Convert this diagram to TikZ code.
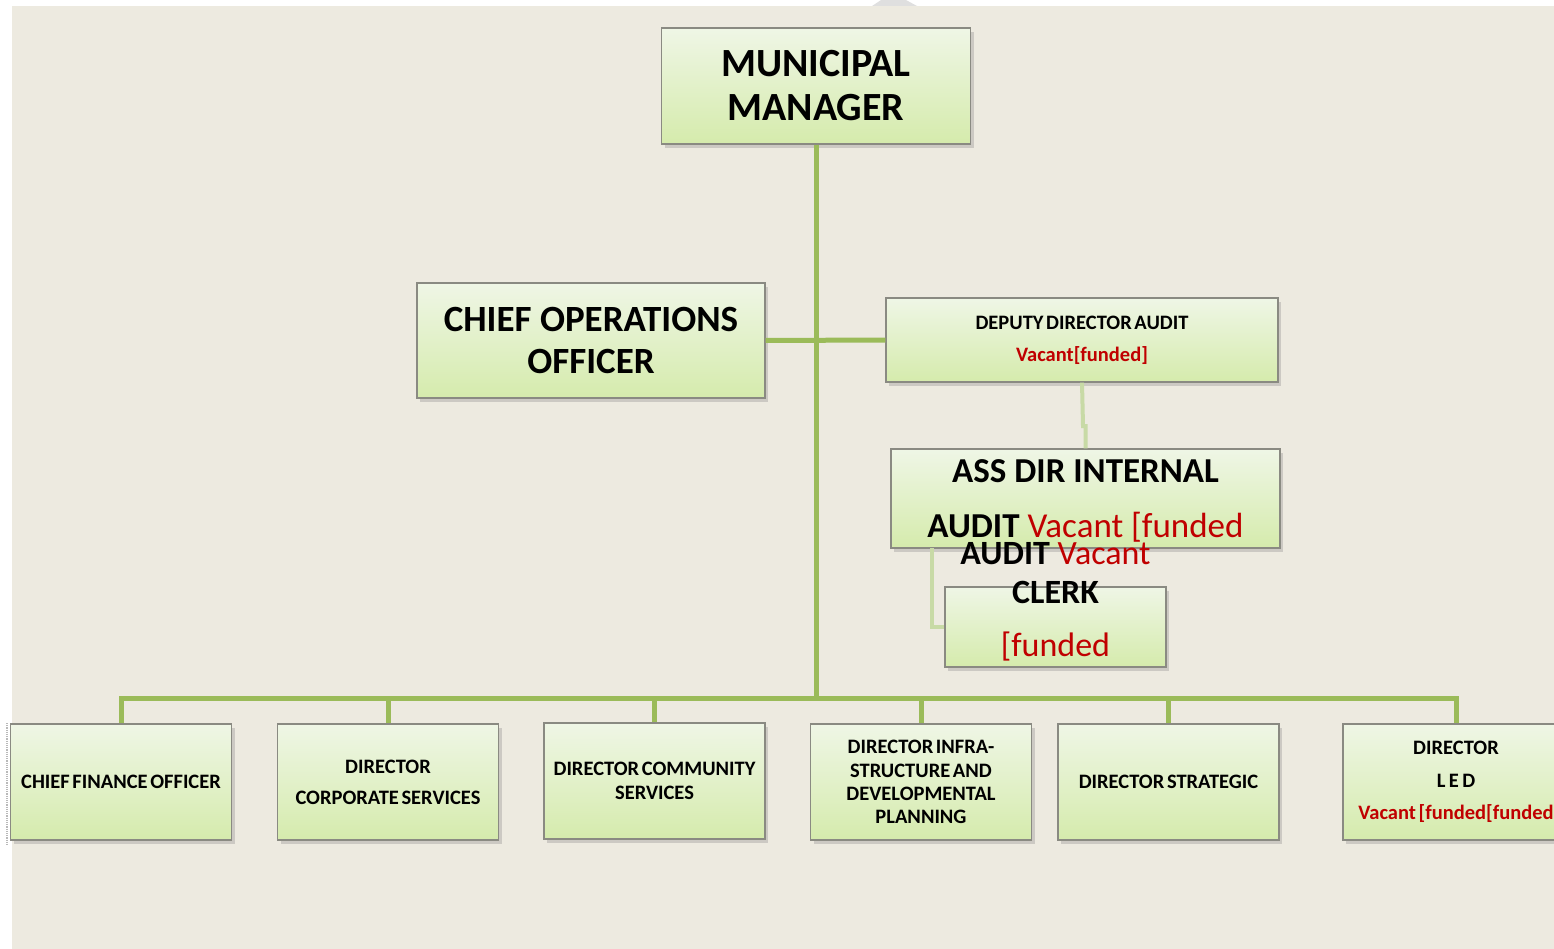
\documentclass[tikz,border=0pt]{standalone}
\usepackage{fontspec}
\setmainfont{Carlito}
\usetikzlibrary{shadows}

\definecolor{bg}{HTML}{EDEAE0}
\definecolor{link}{HTML}{9BBB59}
\definecolor{linklt}{HTML}{C8DAA6}
\definecolor{boxtop}{HTML}{EFF6E6}
\definecolor{boxbot}{HTML}{D5EBAC}
\definecolor{boxline}{HTML}{8A8A82}
\definecolor{vac}{HTML}{C00000}

% small captions: bold, with narrow word spaces
\newcommand{\smallcap}[1]{\bfseries\fontsize{20.5}{#1}\selectfont\spaceskip=0.13em plus 0.05em\relax}

\tikzset{
  post/.style={draw=boxline, line width=1.4pt, top color=boxtop, bottom color=boxbot,
    drop shadow={shadow xshift=3pt, shadow yshift=-4pt, opacity=0.3},
    inner sep=0pt, align=center, text=black},
  unitpost/.style={post, minimum width=221pt, minimum height=116pt},
  conn/.style={draw=link, line width=5pt},
  subconn/.style={draw=linklt, line width=4pt},
}

\begin{document}
\begin{tikzpicture}[x=1pt, y=-1pt]
  \useasboundingbox (0,0) rectangle (1554,949);
  % page background
  \fill[bg] (12,6) rectangle (1554,949);
  \fill[gray!25] (872,6) -- (881,0) -- (906,0) -- (917,6) -- cycle;
  \draw[gray!55, line width=1.2pt, densely dotted] (7,723) -- (7,845);

  % hub of the main trunk
  \coordinate (bushub) at (816,698);

  % top level
  \node[post, font=\bfseries\fontsize{40}{44}\selectfont,
        minimum width=309pt, minimum height=116pt] (mm) at (816,86)
    {MUNICIPAL\\MANAGER};

  % staff level
  \node[post, font=\bfseries\fontsize{37}{42}\selectfont,
        minimum width=348pt, minimum height=115pt] (coo) at (591,340.5)
    {CHIEF OPERATIONS\\OFFICER};
  \node[post, font=\smallcap{32}, minimum width=392pt, minimum height=84pt] (dda) at (1082,340)
    {DEPUTY DIRECTOR AUDIT\\{\color{vac}Vacant[funded]}};

  % audit branch
  \coordinate (ddajog) at (1083,426);
  \node[post, font=\bfseries\fontsize{35}{55}\selectfont,
        minimum width=389pt, minimum height=99pt, text depth=0pt] (asd) at (1085.5,498.5)
    {ASS DIR INTERNAL\\AUDIT {\color{vac}\mdseries Vacant [funded}};
  \node[post, minimum width=221pt, minimum height=80pt] (clerk) at (1055.5,627) {};
  \coordinate (clerkfeed) at (932,548);

  % directorates
  \node[unitpost, font=\smallcap{31}] (cfo) at (121,782)
    {CHIEF FINANCE OFFICER};
  \node[unitpost, font=\smallcap{31}] (dcs) at (388,782)
    {DIRECTOR\\CORPORATE SERVICES};
  \node[unitpost, font=\smallcap{24}] (dcom) at (654.5,781)
    {DIRECTOR COMMUNITY\\SERVICES};
  \node[unitpost, font=\smallcap{23.3}] (dinf) at (921,782)
    {DIRECTOR INFRA-\\STRUCTURE AND\\DEVELOPMENTAL\\PLANNING};
  \node[unitpost, font=\smallcap{24}] (dstr) at (1168.5,782)
    {DIRECTOR STRATEGIC};
  \node[unitpost, minimum width=226pt, font=\smallcap{32.5}] (dled) at (1456,782)
    {DIRECTOR\\L\,E\,D\\{\color{vac}Vacant [funded[funded}};

  % main trunk and branches
  \draw[conn] (mm.south) -- (bushub);
  \draw[conn] (coo.east) -- (dda.west);
  \foreach \n in {cfo,dcs,dcom,dinf,dstr,dled}
    \draw[conn] (bushub) -| (\n.north);

  % audit sub-branch
  \draw[subconn] (dda.south) -- (ddajog) -| (asd.north);
  \draw[subconn] (clerkfeed) |- (clerk.west);

  % clerk caption, set over the box edges
  \node[font=\bfseries\fontsize{34}{39}\selectfont, align=center, inner sep=0pt] (clerklbl) at (1055.5,602)
    {AUDIT {\color{vac}\mdseries Vacant}\\CLERK\\[14pt]{\color{vac}\mdseries [funded}};
\end{tikzpicture}
\end{document}
